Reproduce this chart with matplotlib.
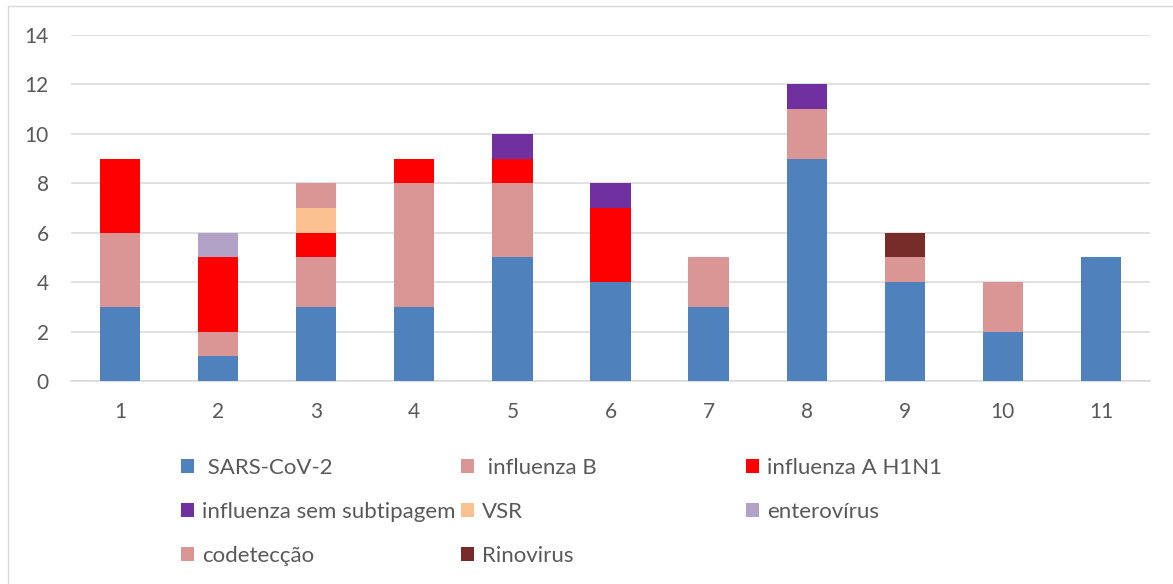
import numpy as np
import matplotlib.pyplot as plt
from matplotlib.patches import Rectangle, Patch

plt.rcParams['font.family'] = ['Lato', 'DejaVu Sans']

categorias = ['1', '2', '3', '4', '5', '6', '7', '8', '9', '10', '11']

sars_cov2 = [3, 1, 3, 3, 5, 4, 3, 9, 4, 2, 5]
influenza_b = [3, 1, 2, 5, 3, 0, 2, 2, 1, 2, 0]
influenza_h1n1 = [3, 3, 1, 1, 1, 3, 0, 0, 0, 0, 0]
sem_subtipagem = [0, 0, 0, 0, 1, 1, 0, 1, 0, 0, 0]
vsr = [0, 0, 1, 0, 0, 0, 0, 0, 0, 0, 0]
enterovirus = [0, 1, 0, 0, 0, 0, 0, 0, 0, 0, 0]
codeteccao = [0, 0, 1, 0, 0, 0, 0, 0, 0, 0, 0]
rinovirus = [0, 0, 0, 0, 0, 0, 0, 0, 1, 0, 0]

series = [
    (' SARS-CoV-2', sars_cov2, '#4F81BD'),
    (' influenza B', influenza_b, '#D99694'),
    ('influenza A H1N1', influenza_h1n1, '#FF0000'),
    ('influenza sem subtipagem', sem_subtipagem, '#7030A0'),
    ('VSR', vsr, '#FAC090'),
    ('enterovírus', enterovirus, '#B3A2C7'),
    ('codetecção', codeteccao, '#D99694'),
    ('Rinovirus', rinovirus, '#772C2A'),
]

fig = plt.figure(figsize=(11.73, 5.84), dpi=100)
ax = fig.add_axes([71/1173, 1-381/584, (1150-71)/1173, (381-35)/584])

x = np.arange(1, len(categorias)+1)
base = np.zeros(len(categorias))
handles = []
for nome, vals, cor in series:
    ax.bar(x, vals, 0.41, bottom=base, color=cor, edgecolor='none', zorder=3)
    base += np.array(vals)
    handles.append(Patch(facecolor=cor, label=nome))

ax.set_xlim(0.5, 11.5)
ax.set_ylim(0, 14)
ax.set_yticks(range(0, 15, 2))
ax.set_xticks(x)
ax.set_xticklabels(categorias)
ax.grid(axis='y', color='#D9D9D9', linewidth=1.1, zorder=0)
for s in ['top', 'right', 'left']:
    ax.spines[s].set_visible(False)
ax.spines['bottom'].set_color('#D9D9D9')
ax.spines['bottom'].set_linewidth(1.1)
ax.tick_params(length=0, labelsize=15, colors='#595959')
ax.tick_params(axis='y', pad=16)
ax.tick_params(axis='x', pad=15)

# legenda em 3 colunas, preenchida por linha
colunas = [[0, 3, 6], [1, 4, 7], [2, 5]]
xs = [172/1173, 452/1173, 737/1173]
for col, xl in zip(colunas, xs):
    fig.legend(handles=[handles[i] for i in col], loc='upper left',
               bbox_to_anchor=(xl, 1-449/584), frameon=False, fontsize=16,
               labelcolor='#595959', handlelength=0.6, handleheight=0.6,
               handletextpad=0.35, labelspacing=1.08, borderaxespad=0)

fig.patches.append(Rectangle((8/1173, -0.1), 1.2, 1.1-6/584, transform=fig.transFigure,
                             fill=False, edgecolor='#D9D9D9', linewidth=1))

fig.savefig('out.png', dpi=100)
